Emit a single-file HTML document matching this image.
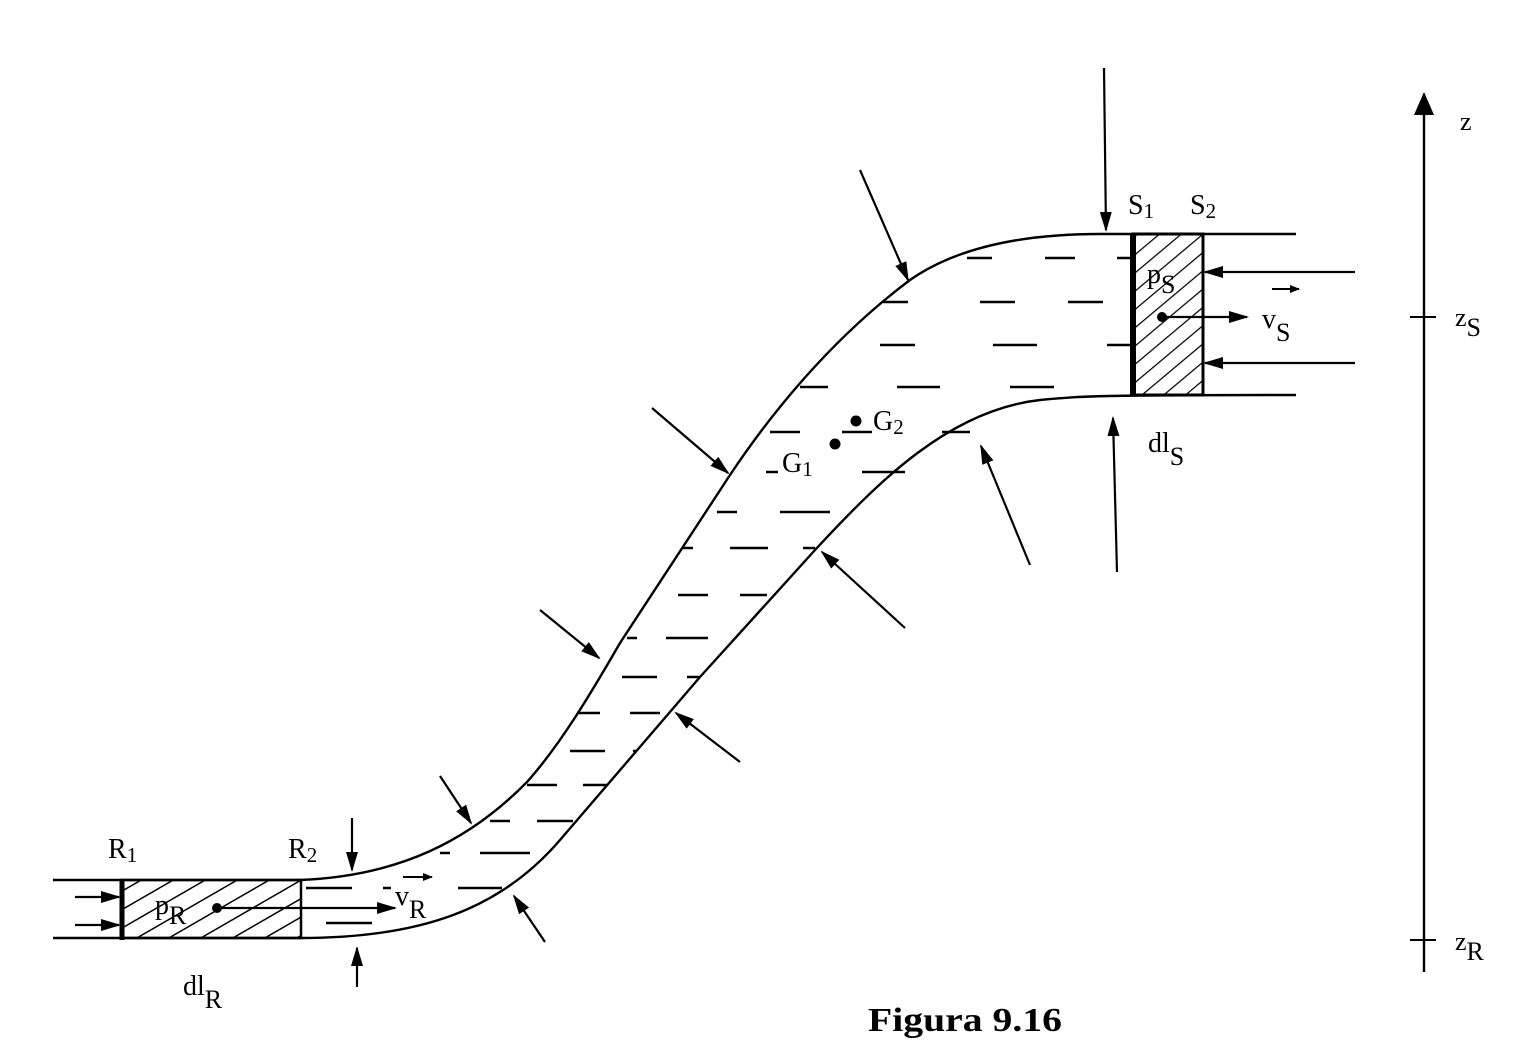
<!DOCTYPE html>
<html><head><meta charset="utf-8"><style>
html,body{margin:0;padding:0;background:#fff;}
svg{display:block;}
text{font-family:"Liberation Serif",serif;fill:#000;}
</style></head><body>
<svg width="1524" height="1056" viewBox="0 0 1524 1056" xmlns="http://www.w3.org/2000/svg">
<defs>
<marker id="ah" markerWidth="10" markerHeight="8" refX="9" refY="4" orient="auto" markerUnits="userSpaceOnUse" viewBox="0 0 10 8">
<path d="M0,0 L10,4 L0,8 Z" fill="#000"/></marker>
<marker id="ahb" markerWidth="20" markerHeight="12" refX="18" refY="6" orient="auto" markerUnits="userSpaceOnUse" viewBox="0 0 20 12">
<path d="M0,0 L20,6 L0,12 Z" fill="#000"/></marker>
<pattern id="hR" width="16" height="16" patternUnits="userSpaceOnUse" patternTransform="rotate(-30)">
<line x1="0" y1="0" x2="16" y2="0" stroke="#000" stroke-width="3"/></pattern>
<pattern id="hS" width="14" height="14" patternUnits="userSpaceOnUse" patternTransform="rotate(-40)">
<line x1="0" y1="0" x2="14" y2="0" stroke="#000" stroke-width="2.5"/></pattern>
</defs>
<g fill="none" stroke="#000" stroke-width="2.4" stroke-linejoin="round">
<path d="M53,880 L300,880 C400,876 470,840 527,782 C560,745 590,695 620,643 L730,475 C770,415 830,340 910,280 C960,245 1030,234 1100,234 L1296,234"/>
<path d="M53,938 L300,938 C420,938 500,910 560,840 L700,677 L815,550 C880,480 950,410 1040,400 C1080,396 1100,395 1296,395"/>
</g>
<rect x="122" y="880" width="179" height="58" fill="url(#hR)" stroke="#000" stroke-width="2.5"/>
<line x1="122" y1="880" x2="122" y2="940" stroke="#000" stroke-width="5"/>
<rect x="1133" y="234" width="70" height="161" fill="url(#hS)" stroke="#000" stroke-width="3"/>
<line x1="1133" y1="234" x2="1133" y2="396" stroke="#000" stroke-width="6"/>
<g stroke="#000" stroke-width="2.4">
<path d="M967,258h25M1045,258h30M1117,258h13
M883,302h25M980,302h35M1068,302h35
M880,345h35M993,345h44M1107,345h23
M800,387h28M897,387h43M1010,387h44
M770,432h30M842,432h30M942,432h28
M766,472h12M862,472h43
M717,512h20M780,512h50
M683,548h10M730,548h38M803,548h12
M678,595h30M740,595h27
M627,638h10M666,638h42
M622,677h35M687,677h13
M577,713h23M630,713h30
M570,751h35M633,751h4
M527,785h30M583,785h25
M490,821h20M537,821h36
M440,853h10M480,853h50
M306,888h46M383,888h8M458,888h44
M326,923h46"/>
</g>
<g stroke="#000" stroke-width="2.2" marker-end="url(#ahb)">
<line x1="75" y1="897" x2="119" y2="897"/>
<line x1="75" y1="925" x2="119" y2="925"/>
<line x1="217" y1="908" x2="395" y2="908"/>
<line x1="352" y1="818" x2="352" y2="870"/>
<line x1="357" y1="987" x2="357" y2="948"/>
<line x1="440" y1="776" x2="471" y2="823"/>
<line x1="545" y1="942" x2="514" y2="896"/>
<line x1="540" y1="610" x2="599" y2="658"/>
<line x1="740" y1="762" x2="676" y2="713"/>
<line x1="652" y1="408" x2="728" y2="473"/>
<line x1="905" y1="628" x2="822" y2="552"/>
<line x1="860" y1="170" x2="908" y2="280"/>
<line x1="1030" y1="565" x2="981" y2="446"/>
<line x1="1104" y1="68" x2="1106" y2="230"/>
<line x1="1117" y1="572" x2="1113" y2="418"/>
<line x1="1355" y1="272" x2="1205" y2="272"/>
<line x1="1355" y1="363" x2="1205" y2="363"/>
<line x1="1162" y1="317" x2="1247" y2="317"/>
</g>
<g stroke="#000" stroke-width="2" marker-end="url(#ah)">
<line x1="403" y1="877" x2="432" y2="877"/>
<line x1="1272" y1="289" x2="1299" y2="289"/>
</g>
<circle cx="217" cy="908" r="5" fill="#000"/>
<circle cx="1162" cy="317" r="5" fill="#000"/>
<circle cx="835" cy="444" r="5.5" fill="#000"/>
<circle cx="856" cy="421" r="5.5" fill="#000"/>
<line x1="1424" y1="112" x2="1424" y2="972" stroke="#000" stroke-width="2.4"/>
<path d="M1414,115 L1424,92 L1434,115 Z" fill="#000"/>
<line x1="1410" y1="317" x2="1436" y2="317" stroke="#000" stroke-width="2"/>
<line x1="1410" y1="940" x2="1436" y2="940" stroke="#000" stroke-width="2"/>
<g font-size="28">
<text x="108" y="858">R<tspan font-size="21" dy="4">1</tspan></text>
<text x="288" y="858">R<tspan font-size="21" dy="4">2</tspan></text>
<text x="1128" y="214">S<tspan font-size="21" dy="4">1</tspan></text>
<text x="1190" y="214">S<tspan font-size="21" dy="4">2</tspan></text>
<text x="155" y="914">p<tspan dy="10" font-size="26">R</tspan></text>
<text x="1147" y="283">p<tspan dy="10" font-size="26">S</tspan></text>
<text x="395" y="905">v<tspan dy="13" font-size="26">R</tspan></text>
<text x="1262" y="328">v<tspan dy="13" font-size="26">S</tspan></text>
<text x="183" y="995">dl<tspan dy="13" font-size="26">R</tspan></text>
<text x="1148" y="452">dl<tspan dy="13" font-size="26">S</tspan></text>
<text x="782" y="472">G<tspan font-size="21" dy="4">1</tspan></text>
<text x="873" y="430">G<tspan font-size="21" dy="4">2</tspan></text>
<text x="1460" y="130" font-size="26">z</text>
<text x="1455" y="326" font-size="26">z<tspan dy="10">S</tspan></text>
<text x="1455" y="950" font-size="26">z<tspan dy="10">R</tspan></text>
</g>
<text x="868" y="1031" font-size="34" font-weight="bold" textLength="194" lengthAdjust="spacingAndGlyphs">Figura 9.16</text>
</svg>
</body></html>
